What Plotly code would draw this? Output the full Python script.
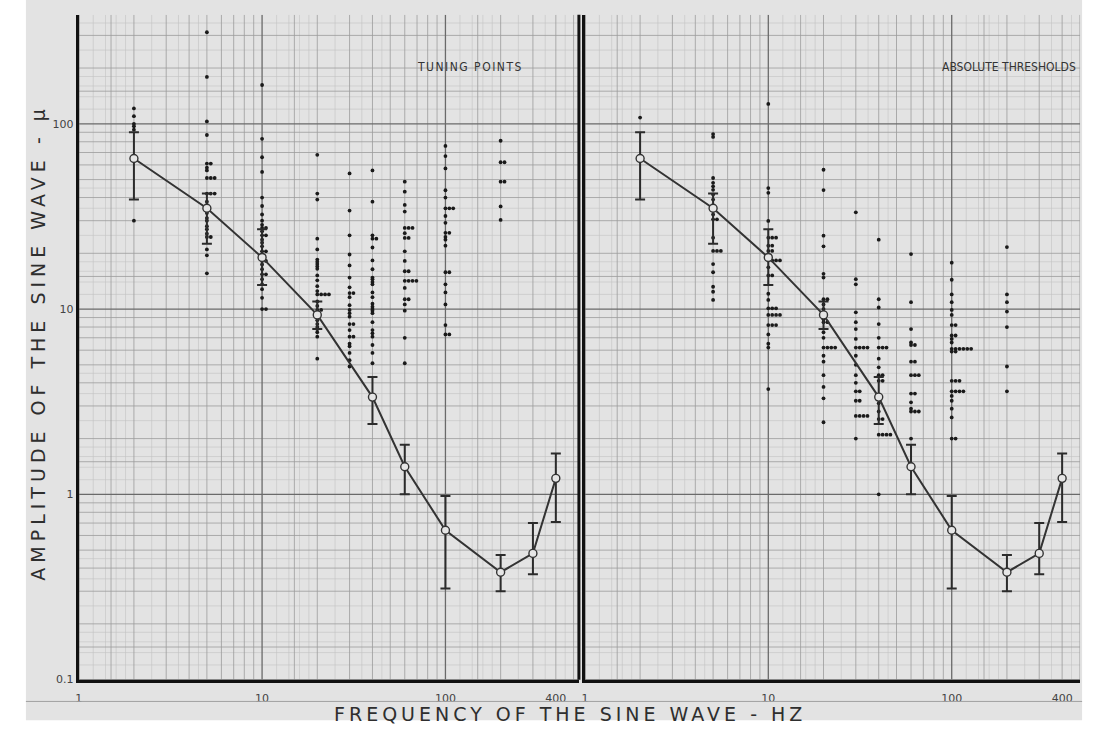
import numpy as np
import plotly.graph_objects as go

# ---------------- data ----------------
mean_freq = [2, 5, 10, 20, 40, 60, 100, 200, 300, 400]
mean_amp = [65, 35, 19, 9.3, 3.35, 1.41, 0.64, 0.38, 0.48, 1.22]
err_high = [90, 42, 27, 11, 4.3, 1.85, 0.98, 0.47, 0.70, 1.66]
err_low = [39, 22.5, 13.5, 7.8, 2.4, 1.0, 0.31, 0.30, 0.37, 0.71]

# Tuning points (left panel), individual observations per frequency
tune_2 = [121, 110, 100, 97, 93, 30]
tune_5 = [312, 179, 103, 87, 61, 61, 58, 56, 51, 51, 51, 42, 42, 42, 38, 36, 33,
          31, 30, 28, 27, 25.5, 24.5, 24.5, 21, 19.5, 15.6]
tune_10 = [162, 83, 66, 55, 40, 36, 32.4, 30, 28.5, 27.4, 27.4, 26.3, 25, 25, 23.7,
           22.8, 21.8, 20.5, 20.5, 18.2, 18.2, 17.4, 16.4, 15.4, 15.4, 14.5, 13.6,
           12.8, 11.5, 10, 10]
tune_20 = [68, 42, 39, 24, 21, 18.5, 18, 17.5, 17, 16.5, 15.2, 14.3, 13.3, 12.5,
           12, 12, 12, 12, 11, 10.4, 9.9, 9.9, 8.7, 8.3, 8.0, 7.8, 7.5, 7.1, 5.4]
tune_30 = [54, 34, 25, 19.7, 17.2, 14.8, 13.1, 12.2, 12.2, 11.6, 10.5, 9.9, 9.5,
           9.1, 8.3, 8.3, 7.7, 7.1, 7.1, 6.5, 6.3, 5.8, 5.3, 4.9]
tune_40 = [56, 38, 25, 24, 24, 21.5, 18.3, 16.4, 14.8, 14.5, 14.0, 13.6, 12.3,
           11.6, 10.7, 10.3, 10.0, 9.8, 9.5, 8.5, 7.7, 7.4, 7.1, 6.4, 5.8, 5.1]
tune_60 = [48.7, 43, 36.5, 33.6, 27.4, 27.4, 27.4, 25.7, 24.2, 24.2, 20.5, 18.2,
           16, 16, 14.2, 14.2, 14.2, 14.2, 13, 11.3, 11.3, 10.6, 9.8, 7.0, 5.1]
tune_100 = [76, 67, 57.4, 43.8, 40, 35, 35, 35, 31.8, 29.2, 25.8, 25.8, 24.5,
            23.7, 22, 15.8, 15.8, 13.6, 12.3, 10.6, 8.2, 7.3, 7.3]
tune_200 = [81, 62, 62, 48.7, 48.7, 35.8, 30.3]

# Absolute thresholds (right panel)
abs_2 = [108]
abs_5 = [88, 85, 51, 48, 46, 44, 41.5, 39, 32.4, 30.5, 30.5, 24.3, 20.6, 20.6,
         20.6, 17.5, 15.8, 13.2, 12.4, 11.2]
abs_10 = [128, 45, 42.4, 29.9, 24.3, 24.3, 24.3, 22, 22, 20.6, 20.6, 18.3, 18.3,
          18.3, 18.3, 16.8, 15.2, 15.2, 12.1, 11.2, 10.1, 10.1, 10.1, 9.3, 9.3,
          9.3, 9.3, 8.2, 8.2, 8.2, 7.3, 6.5, 6.2, 3.7]
abs_20 = [56.5, 43.9, 24.9, 21.8, 15.5, 14.8, 11.3, 11.3, 10.6, 10, 8.8, 8.5, 8.5,
          7.5, 7.0, 6.2, 6.2, 6.2, 6.2, 5.6, 5.2, 4.4, 3.8, 3.3, 2.45]
abs_30 = [33.3, 14.5, 13.6, 9.6, 8.5, 7.8, 6.9, 6.2, 6.2, 6.2, 6.2, 5.6, 5.0, 4.4,
          4.0, 3.6, 3.6, 3.2, 3.2, 2.65, 2.65, 2.65, 2.65, 2.0]
abs_40 = [23.7, 11.3, 10.2, 8.3, 7.0, 6.2, 6.2, 6.2, 5.4, 4.85, 4.4, 4.4, 4.1, 4.1,
          3.1, 2.8, 2.55, 2.55, 2.1, 2.1, 2.1, 2.1, 1.0]
abs_60 = [19.8, 10.9, 7.8, 6.6, 6.4, 6.4, 5.2, 5.2, 4.4, 4.4, 4.4, 3.5, 3.5, 3.14,
          2.9, 2.8, 2.8, 2.8, 2.0, 1.45]
abs_100 = [17.8, 14.4, 12, 10.9, 9.9, 9.3, 8.2, 8.2, 7.2, 7.2, 6.9, 6.6, 6.1, 6.1,
           6.1, 6.1, 6.1, 6.1, 5.9, 5.9, 4.1, 4.1, 4.1, 3.6, 3.6, 3.6, 3.6, 3.4,
           3.2, 2.9, 2.6, 2.0, 2.0]
abs_200 = [21.6, 12, 10.9, 9.7, 8.0, 4.9, 3.6]

tune_sets = [(2, tune_2), (5, tune_5), (10, tune_10), (20, tune_20), (30, tune_30),
             (40, tune_40), (60, tune_60), (100, tune_100), (200, tune_200)]
abs_sets = [(2, abs_2), (5, abs_5), (10, abs_10), (20, abs_20), (30, abs_30),
            (40, abs_40), (60, abs_60), (100, abs_100), (200, abs_200)]

x_ticks = [1, 10, 100, 400]
x_tick_text = ["1", "10", "100", "400"]
y_ticks = [0.1, 1, 10, 100]
y_tick_text = ["0.1", "1", "10", "100"]

panel_titles = ["TUNING POINTS", "ABSOLUTE THRESHOLDS"]
x_title = "FREQUENCY OF THE SINE WAVE - HZ"
y_title = "AMPLITUDE OF THE SINE WAVE - \u03bc"

# ---------------- layout geometry ----------------
W, H = 1108, 754
x1_dom = [75 / W, 577 / W]
x2_dom = [583 / W, 1080 / W]
y_dom = [1 - 686 / H, 1 - 15 / H]
x1_range = [0, 2.728]
x2_range = [0, 2.70]
y_range = [-1, 2.588]

fig = go.Figure()

# ---------------- log-paper grid (computed) ----------------
light_mults = [1.2, 1.4, 1.6, 1.8, 2.5, 3.5, 4.5]
mid_mults = [1.5, 2, 3, 4, 5, 6, 7, 8, 9]


def grid_values(lo, hi, mults):
    out = []
    for d in range(int(np.floor(lo)), int(np.ceil(hi)) + 1):
        for m in mults:
            v = m * 10 ** d
            if 10 ** lo <= v <= 10 ** hi:
                out.append(v)
    return out


def grid_trace(xr, yr, mults, color, width, xa, ya):
    xs, ys = [], []
    for v in grid_values(xr[0], xr[1], mults):
        xs += [v, v, None]
        ys += [10 ** yr[0], 10 ** yr[1], None]
    for v in grid_values(yr[0], yr[1], mults):
        xs += [10 ** xr[0], 10 ** xr[1], None]
        ys += [v, v, None]
    return go.Scatter(x=xs, y=ys, mode="lines", line=dict(color=color, width=width),
                      hoverinfo="skip", showlegend=False, xaxis=xa, yaxis=ya)


for xr, xa, ya in [(x1_range, "x", "y"), (x2_range, "x2", "y2")]:
    fig.add_trace(grid_trace(xr, y_range, light_mults, "#c2c2c2", 0.6, xa, ya))
    fig.add_trace(grid_trace(xr, y_range, mid_mults, "#9c9c9c", 0.8, xa, ya))
    fig.add_trace(grid_trace(xr, y_range, [1], "#6a6a6a", 1.3, xa, ya))

# ---------------- scattered observations ----------------
def dot_coords(sets):
    xs, ys = [], []
    for f, vals in sets:
        seen = {}
        for v in vals:
            k = seen.get(v, 0)
            seen[v] = k + 1
            xs.append(f * 1.05 ** k)
            ys.append(v)
    return xs, ys


for sets, xa, ya in [(tune_sets, "x", "y"), (abs_sets, "x2", "y2")]:
    dx, dy = dot_coords(sets)
    fig.add_trace(go.Scatter(x=dx, y=dy, mode="markers",
                             marker=dict(color="#1a1a1a", size=3.8),
                             hoverinfo="skip", showlegend=False, xaxis=xa, yaxis=ya))

# ---------------- mean curve with error bars ----------------
plus = [h - m for h, m in zip(err_high, mean_amp)]
minus = [m - l for m, l in zip(mean_amp, err_low)]
for xa, ya in [("x", "y"), ("x2", "y2")]:
    fig.add_trace(go.Scatter(x=mean_freq, y=mean_amp, mode="markers",
                             marker=dict(size=1, color="rgba(0,0,0,0)"),
                             error_y=dict(type="data", array=plus, arrayminus=minus,
                                          color="#2b2b2b", thickness=2, width=5),
                             hoverinfo="skip", showlegend=False, xaxis=xa, yaxis=ya))
    fig.add_trace(go.Scatter(x=mean_freq, y=mean_amp, mode="lines+markers",
                             line=dict(color="#333333", width=2),
                             marker=dict(symbol="circle", size=8, color="#e6e6e6",
                                         line=dict(color="#333333", width=1.4)),
                             showlegend=False, xaxis=xa, yaxis=ya))

# ---------------- axes ----------------
tick_font = dict(family="DejaVu Sans", size=11, color="#444444")
common_x = dict(type="log", showgrid=False, zeroline=False, showline=True,
                linecolor="#111111", linewidth=3, ticks="", tickmode="array",
                tickvals=x_ticks, ticktext=x_tick_text, tickfont=tick_font,
                ticklabelstandoff=6)
fig.update_layout(
    width=W, height=H, margin=dict(l=0, r=0, t=0, b=0),
    paper_bgcolor="#ffffff", plot_bgcolor="#dcdcdc",
    xaxis=dict(domain=x1_dom, range=x1_range, anchor="y", **common_x),
    xaxis2=dict(domain=x2_dom, range=x2_range, anchor="y2", **common_x),
    yaxis=dict(type="log", domain=y_dom, range=y_range, anchor="x", showgrid=False,
               zeroline=False, showline=True, linecolor="#111111", linewidth=3,
               ticks="", tickmode="array", tickvals=y_ticks, ticktext=y_tick_text,
               tickfont=tick_font),
    yaxis2=dict(type="log", domain=y_dom, range=y_range, anchor="x2", showgrid=False,
                zeroline=False, showline=True, linecolor="#111111", linewidth=3,
                showticklabels=False, ticks=""),
    showlegend=False,
)

# photo background, frame lines
fig.add_shape(type="rect", xref="paper", yref="paper", x0=22 / W, x1=1082 / W,
              y0=1 - 727 / H, y1=1, fillcolor="#e3e3e3", line=dict(width=0),
              layer="below")
fig.add_shape(type="line", xref="paper", yref="paper", x0=22 / W, x1=1082 / W,
              y0=1 - 708 / H, y1=1 - 708 / H, line=dict(color="#a0a0a0", width=1))
fig.add_shape(type="line", xref="x domain", yref="y domain", x0=1, x1=1, y0=0, y1=1,
              line=dict(color="#111111", width=3))

# ---------------- text ----------------
label_font = dict(family="DejaVu Sans Condensed, DejaVu Sans", size=12, color="#333333")
fig.add_annotation(text='<span style="letter-spacing:1.5px">' + panel_titles[0] + "</span>",
                   xref="paper", yref="paper", x=468 / W, y=1 - 68 / H,
                   xanchor="center", yanchor="middle", showarrow=False, font=label_font)
fig.add_annotation(text=panel_titles[1], xref="paper", yref="paper",
                   x=1078 / W, y=1 - 68 / H, xanchor="right", yanchor="middle",
                   showarrow=False, font=label_font)
title_font = dict(family="DejaVu Sans", size=19, color="#2e2e2e")
fig.add_annotation(text='<span style="letter-spacing:4px">' + x_title + "</span>",
                   xref="paper", yref="paper", x=568 / W, y=1 - 721 / H,
                   xanchor="center", yanchor="middle", showarrow=False, font=title_font)
fig.add_annotation(text='<span style="letter-spacing:5px">' + y_title + "</span>",
                   xref="paper", yref="paper", x=34 / W, y=1 - 345 / H,
                   xanchor="center", yanchor="middle", showarrow=False,
                   textangle=-90, font=title_font)

fig.write_html("out.html")
